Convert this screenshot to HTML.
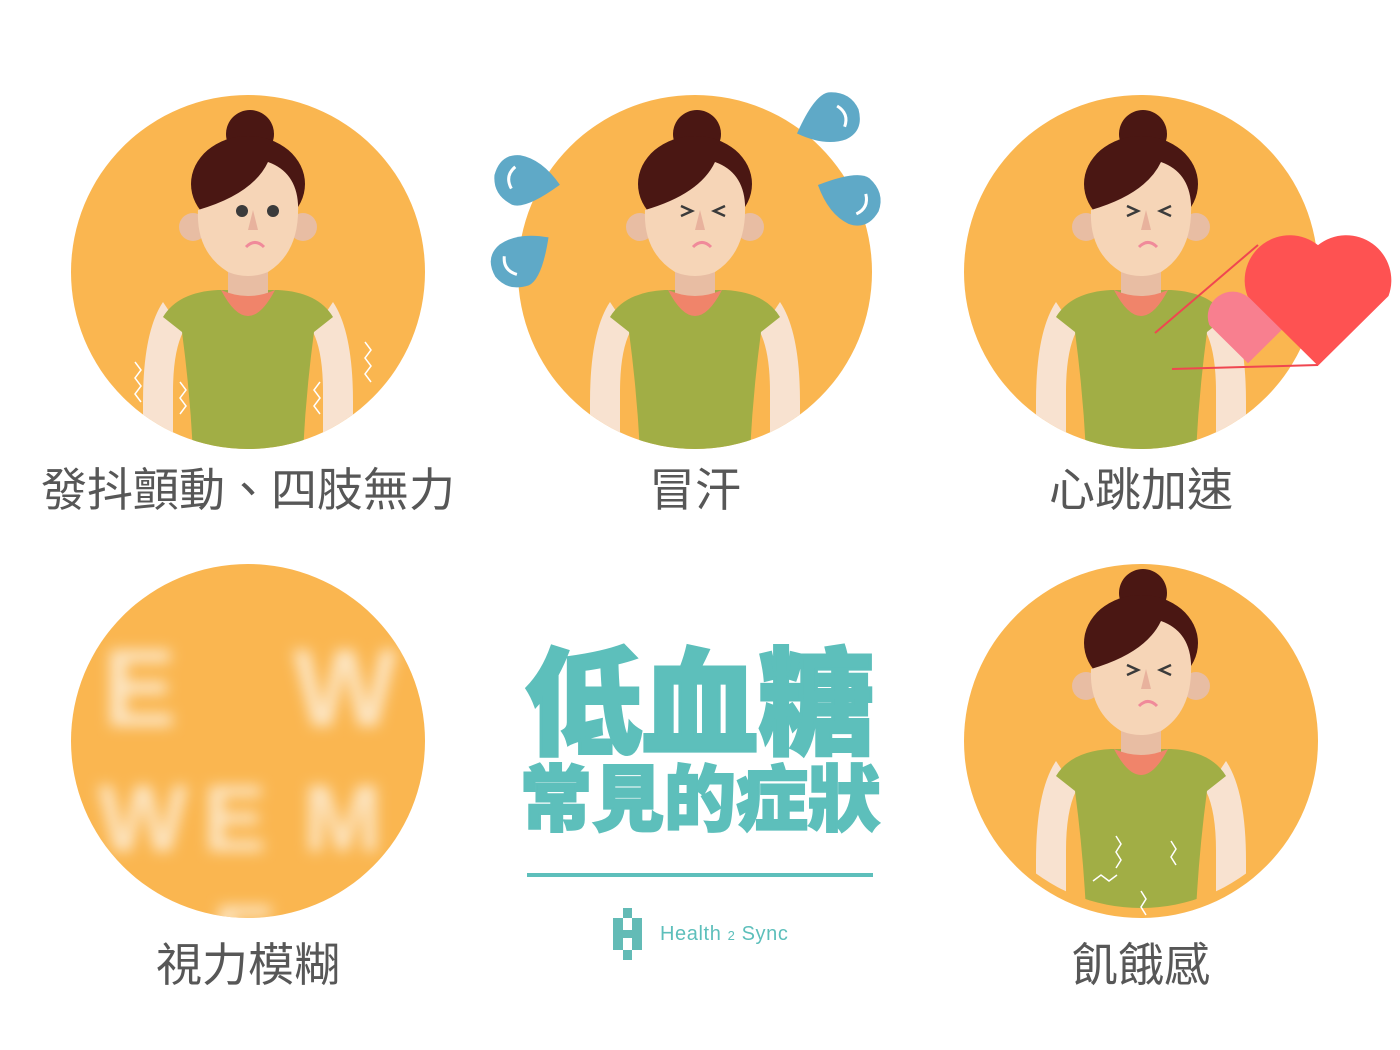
<!DOCTYPE html>
<html><head><meta charset="utf-8">
<style>
html,body{margin:0;padding:0;background:#fff;}
svg{display:block;}
.lbl{font-family:"Liberation Sans","Noto Sans CJK TC",sans-serif;font-size:46px;fill:#575757;text-anchor:middle;}
</style></head>
<body>
<svg width="1400" height="1050" viewBox="0 0 1400 1050">
<defs>
  <filter id="blur" x="-20%" y="-20%" width="140%" height="140%"><feGaussianBlur stdDeviation="7"/></filter>
  <clipPath id="cc"><circle cx="0" cy="0" r="177"/></clipPath>
  <g id="heart"><path d="M0,0.85 L-0.86,0 A0.55,0.55 0 0 1 0,-0.62 A0.55,0.55 0 0 1 0.86,0 Z"/></g>
  <g id="woman">
    <g clip-path="url(#cc)">
      <path d="M-85,30 Q-105,60 -105,130 L-105,180 L-75,180 L-75,120 Q-75,80 -65,60 Z" fill="#f8e2d0"/>
      <path d="M85,30 Q105,60 105,130 L105,180 L75,180 L75,120 Q75,80 65,60 Z" fill="#f8e2d0"/>
      <path d="M-30,18 Q-70,20 -85,45 L-66,60 Q-58,120 -55,180 L55,180 Q58,120 66,60 L85,45 Q70,20 30,18 Z" fill="#a1ae45"/>
      <rect x="-20" y="-20" width="40" height="45" fill="#e8bda3"/>
      <path d="M-27,18 Q0,70 27,18 Q0,30 -27,18 Z" fill="#f0846a"/>
    </g>
    <circle cx="55" cy="-45" r="14" fill="#e8bda3"/>
    <circle cx="-55" cy="-45" r="14" fill="#e8bda3"/>
    <circle cx="2" cy="-138" r="24" fill="#4a1713"/>
    <ellipse cx="0" cy="-88" rx="57" ry="48" fill="#4a1713"/>
    <path d="M-50,-62 Q-52,-20 -20,0 Q0,8 20,0 Q52,-20 50,-68 Q48,-100 20,-110 Q5,-78 -50,-62 Z" fill="#f6d5b7"/>
    <path d="M5,-62 L0,-42 L10,-42 Z" fill="#e8b29d"/>
    <path d="M-2,-25 Q7,-34 16,-25" stroke="#f08a9a" stroke-width="3" fill="none"/>
  </g>
  <g id="eyes-open"><circle cx="-6" cy="-61" r="6" fill="#3b3b3b"/><circle cx="25" cy="-61" r="6" fill="#3b3b3b"/></g>
  <g id="eyes-squint" stroke="#3b3b3b" stroke-width="2.5" fill="none"><path d="M-14,-66 L-3,-61 L-14,-56"/><path d="M30,-66 L19,-61 L30,-56"/></g>
  <g id="drop"><path d="M0,-32 Q28,0 24,14 Q16,34 -4,34 Q-26,30 -26,10 Q-24,-12 0,-32 Z" fill="#5fa9c7"/><path d="M-14,14 Q-4,24 8,16" stroke="#fff" stroke-width="3" fill="none"/></g>
</defs>

<g transform="translate(248,272)">
  <circle r="177" fill="#fab650"/>
  <use href="#woman"/><use href="#eyes-open"/>
  <g stroke="#fff" stroke-width="1.5" fill="none">
    <path d="M-113,90 l6,8 -6,8 6,8 -6,8 6,8"/>
    <path d="M-68,110 l6,8 -6,8 6,8 -6,8"/>
    <path d="M72,110 l-6,8 6,8 -6,8 6,8"/>
    <path d="M117,70 l6,8 -6,8 6,8 -6,8 6,8"/>
  </g>
</g>
<text class="lbl" x="248" y="506">發抖顫動、四肢無力</text>

<g transform="translate(695,272)">
  <circle r="177" fill="#fab650"/>
  <use href="#woman"/><use href="#eyes-squint"/>
</g>
<use href="#drop" transform="translate(528,182) rotate(95)"/>
<use href="#drop" transform="translate(524,258) rotate(50)"/>
<use href="#drop" transform="translate(826,120) rotate(-115)"/>
<use href="#drop" transform="translate(848,196) rotate(-70)"/>
<text class="lbl" x="695" y="506">冒汗</text>

<g transform="translate(1141,272)">
  <circle r="177" fill="#fab650"/>
  <use href="#woman"/><use href="#eyes-squint"/>
</g>
<use href="#heart" transform="translate(1248,325) scale(45)" fill="#f87f8f"/>
<line x1="1155" y1="333" x2="1258" y2="245" stroke="#f04650" stroke-width="2"/>
<line x1="1172" y1="369" x2="1318" y2="365" stroke="#f04650" stroke-width="2"/>
<use href="#heart" transform="translate(1318,296) scale(82)" fill="#fe5252"/>
<text class="lbl" x="1141" y="506">心跳加速</text>

<g transform="translate(248,741)">
  <circle r="177" fill="#fab650"/>
  <g clip-path="url(#cc)" filter="url(#blur)" fill="#fde6c4" font-family="Liberation Sans, sans-serif" font-weight="bold">
    <text x="-145" y="-15" font-size="110">E</text>
    <text x="45" y="-15" font-size="110">W</text>
    <text x="-150" y="110" font-size="95">W</text>
    <text x="-45" y="110" font-size="95">E</text>
    <text x="55" y="110" font-size="95">M</text>
    <text x="-35" y="230" font-size="95">E</text>
  </g>
</g>
<text class="lbl" x="248" y="981">視力模糊</text>

<g transform="translate(1141,741)">
  <circle r="177" fill="#fab650"/>
  <g transform="translate(0,-10)"><use href="#woman"/><use href="#eyes-squint"/></g>
  <g stroke="#fff" stroke-width="1.5" fill="none">
    <path d="M-25,95 l5,8 -5,8 5,8 -5,8"/><path d="M30,100 l5,8 -5,8 5,8"/>
    <path d="M-48,140 l8,-6 8,6 8,-6"/><path d="M0,150 l5,8 -5,8 5,8"/>
  </g>
</g>
<text class="lbl" x="1141" y="981">飢餓感</text>

<text x="700" y="745" text-anchor="middle" font-family="Liberation Sans, Noto Sans CJK TC, sans-serif" font-weight="900" font-size="116" fill="#5dbfbb" stroke="#5dbfbb" stroke-width="3">低血糖</text>
<text x="700" y="825" text-anchor="middle" font-family="Liberation Sans, Noto Sans CJK TC, sans-serif" font-weight="900" font-size="72" fill="#5dbfbb" stroke="#5dbfbb" stroke-width="2">常見的症狀</text>
<rect x="527" y="873" width="346" height="4" fill="#5dbfbb"/>

<g fill="#63bbb6">
  <rect x="623" y="908" width="9" height="10"/>
  <rect x="613" y="918" width="10" height="32"/>
  <rect x="632" y="918" width="10" height="32"/>
  <rect x="623" y="930" width="9" height="8"/>
  <rect x="623" y="950" width="9" height="10"/>
  <text x="660" y="940" font-family="Liberation Sans, sans-serif" font-size="20" letter-spacing="0.6" fill="#5dbfbb">Health <tspan font-size="13">2</tspan> Sync</text>
</g>
</svg>
</body></html>
